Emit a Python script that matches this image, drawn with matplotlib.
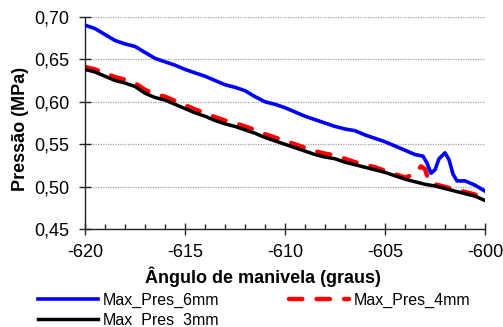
import matplotlib
matplotlib.use('Agg')
import matplotlib.pyplot as plt
from matplotlib.ticker import MultipleLocator, FuncFormatter

plt.rcParams['font.family'] = ['Liberation Sans', 'DejaVu Sans']

# crank angle (deg) and max pressure (MPa) for each clearance
ang_6mm = [-620, -619.5, -619, -618.5, -618, -617.5, -617, -616.5, -616, -615.5,
           -615, -614.5, -614, -613.5, -613, -612.5, -612, -611.5, -611, -610.5,
           -610, -609.5, -609, -608.5, -608, -607.5, -607, -606.5, -606, -605.5,
           -605, -604.5, -604, -603.5, -603.1, -602.9, -602.7, -602.5, -602.3,
           -602.0, -601.8, -601.6, -601.4, -601.0, -600.5, -600]
pres_6mm = [0.690, 0.686, 0.679, 0.672, 0.668, 0.665, 0.658, 0.651, 0.647, 0.643,
            0.638, 0.634, 0.630, 0.625, 0.620, 0.617, 0.613, 0.606, 0.600, 0.597,
            0.593, 0.588, 0.583, 0.579, 0.575, 0.571, 0.568, 0.566, 0.561, 0.557,
            0.553, 0.548, 0.543, 0.538, 0.536, 0.528, 0.516, 0.520, 0.533,
            0.540, 0.532, 0.515, 0.507, 0.507, 0.502, 0.495]

ang_4mm = [-620, -619.5, -619, -618.5, -618, -617.5, -617, -616.5, -616, -615.5,
           -615, -614.5, -614, -613.5, -613, -612.5, -612, -611.5, -611, -610.5,
           -610, -609.5, -609, -608.5, -608, -607.5, -607, -606.5, -606, -605.5,
           -605, -604.5, -604, -603.5, -603.2, -603, -602.8, -602.5, -602,
           -601.5, -601, -600.5, -600]
pres_4mm = [0.641, 0.638, 0.634, 0.629, 0.626, 0.622, 0.614, 0.609, 0.606, 0.601,
            0.596, 0.591, 0.587, 0.582, 0.578, 0.575, 0.571, 0.567, 0.562, 0.558,
            0.554, 0.550, 0.546, 0.542, 0.539, 0.537, 0.533, 0.529, 0.526, 0.523,
            0.519, 0.515, 0.511, 0.515, 0.524, 0.521, 0.506, 0.503, 0.500,
            0.497, 0.494, 0.491, 0.486]

ang_3mm = [-620, -619.5, -619, -618.5, -618, -617.5, -617, -616.5, -616, -615.5,
           -615, -614.5, -614, -613.5, -613, -612.5, -612, -611.5, -611, -610.5,
           -610, -609.5, -609, -608.5, -608, -607.5, -607, -606.5, -606, -605.5,
           -605, -604.5, -604, -603.5, -603, -602.5, -602, -601.5, -601, -600.5, -600]
pres_3mm = [0.638, 0.635, 0.630, 0.625, 0.622, 0.618, 0.610, 0.605, 0.602, 0.597,
            0.592, 0.587, 0.583, 0.578, 0.574, 0.571, 0.567, 0.563, 0.558, 0.554,
            0.550, 0.546, 0.542, 0.538, 0.535, 0.533, 0.529, 0.526, 0.523, 0.520,
            0.517, 0.513, 0.509, 0.506, 0.503, 0.501, 0.498, 0.495, 0.492, 0.489, 0.484]

fig = plt.figure(figsize=(5.03, 3.27), dpi=100)
ax = fig.add_axes([0.169, 0.2985, 0.7952, 0.6505])

ax.plot(ang_6mm, pres_6mm, color='#0000FF', lw=2.6, label='Max_Pres_6mm', zorder=3)
ax.plot(ang_3mm, pres_3mm, color='black', lw=2.5, label='Max_Pres_3mm', zorder=3)
ax.plot(ang_4mm, pres_4mm, color='#FF0000', lw=3.2, dashes=(3.0, 3.2),
        dash_capstyle='round', label='Max_Pres_4mm', zorder=2)

ax.set_xlim(-620, -600)
ax.set_ylim(0.45, 0.70)
ax.xaxis.set_major_locator(MultipleLocator(5))
ax.xaxis.set_minor_locator(MultipleLocator(1))
ax.yaxis.set_major_locator(MultipleLocator(0.05))
ax.xaxis.set_major_formatter(FuncFormatter(lambda v, p: '%d' % round(v)))
ax.yaxis.set_major_formatter(FuncFormatter(lambda v, p: ('%.2f' % v).replace('.', ',')))

ax.yaxis.grid(True, linestyle=(0, (1, 1)), color='#a0a0a0', lw=0.9)
ax.set_axisbelow(True)
for s in ['top', 'right']:
    ax.spines[s].set_visible(False)
for s in ['left', 'bottom']:
    ax.spines[s].set_color('#222222')
    ax.spines[s].set_linewidth(1.0)

ax.tick_params(axis='both', which='major', direction='inout', length=8.5,
               width=1.0, labelsize=13, color='#222222')
ax.tick_params(axis='y', which='major', pad=7)
ax.tick_params(axis='x', which='major', pad=6)
ax.tick_params(axis='x', which='minor', direction='in', length=3.5, width=1.0,
               color='#222222')

ax.set_xlabel('Ângulo de manivela (graus)', fontsize=13, fontweight='bold')
ax.set_ylabel('Pressão (MPa)', fontsize=13, fontweight='bold')
ax.xaxis.set_label_coords(0.446, -0.175)
ax.yaxis.set_label_coords(-0.14, 0.47)

fig.legend(loc='upper left', bbox_to_anchor=(0.075, 0.105), ncol=2, frameon=False,
           fontsize=11.5, handlelength=3.75, handletextpad=0.3, columnspacing=4.4,
           labelspacing=0.3, borderpad=0, borderaxespad=0)

fig.savefig('out.png', dpi=100)
